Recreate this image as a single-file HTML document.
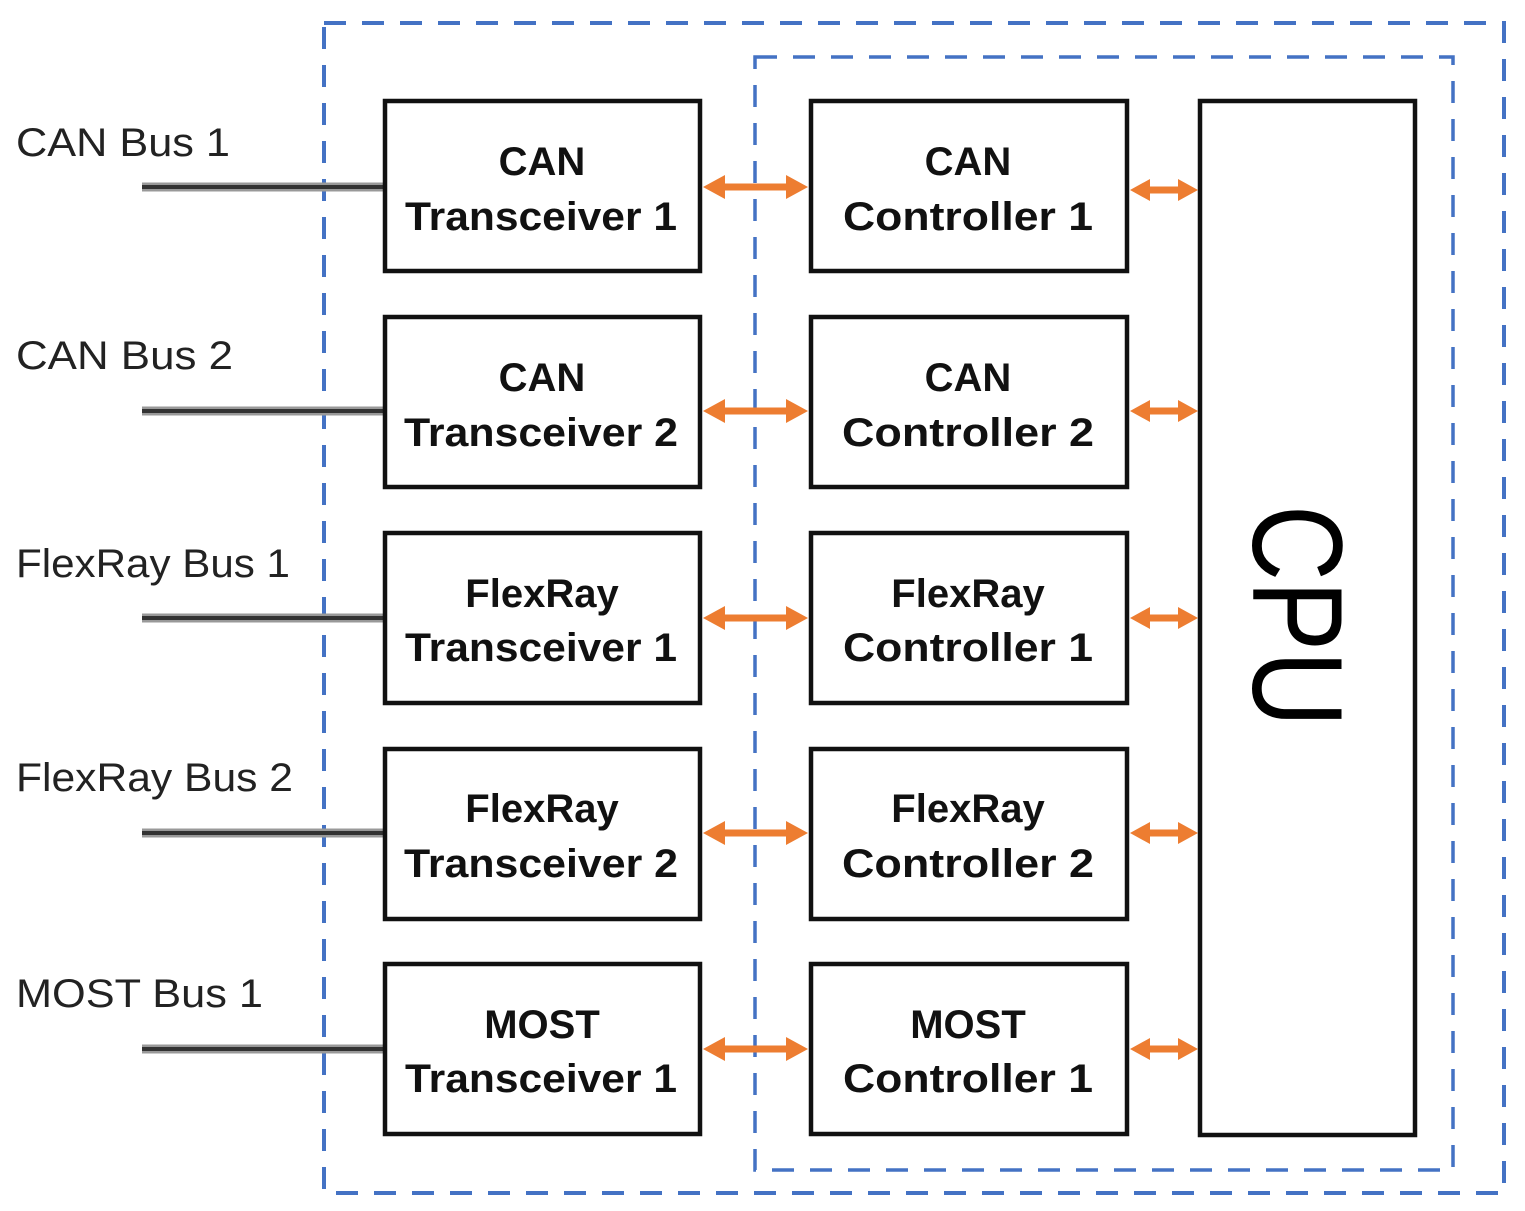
<!DOCTYPE html>
<html><head><meta charset="utf-8"><style>html,body{margin:0;padding:0;background:#fff}svg{display:block}</style></head>
<body>
<svg width="1525" height="1211" viewBox="0 0 1525 1211" xmlns="http://www.w3.org/2000/svg">
<defs>
<g id="arr"><path d="M0,0 L22,-12 L22,-3.5 L83,-3.5 L83,-12 L105,0 L83,12 L83,3.5 L22,3.5 L22,12 Z" fill="#ED7D31"/></g>
<g id="arr2"><path d="M0,0 L20,-11 L20,-3.5 L48,-3.5 L48,-11 L68,0 L48,11 L48,3.5 L20,3.5 L20,11 Z" fill="#ED7D31"/></g>
</defs>
<rect x="324" y="23" width="1180" height="1170" fill="none" stroke="#4472C4" stroke-width="4" stroke-dasharray="22 16"/>
<rect x="755" y="57" width="698" height="1113" fill="none" stroke="#4472C4" stroke-width="3.5" stroke-dasharray="22 16"/>
<g font-family="Liberation Sans, sans-serif" font-size="40" fill="#222">
<text x="16" y="156" textLength="214" lengthAdjust="spacingAndGlyphs">CAN Bus 1</text>
<text x="16" y="369" textLength="217" lengthAdjust="spacingAndGlyphs">CAN Bus 2</text>
<text x="16" y="577" textLength="274" lengthAdjust="spacingAndGlyphs">FlexRay Bus 1</text>
<text x="16" y="791" textLength="277" lengthAdjust="spacingAndGlyphs">FlexRay Bus 2</text>
<text x="16" y="1007" textLength="247" lengthAdjust="spacingAndGlyphs">MOST Bus 1</text>
</g>
<g stroke="#999" stroke-width="9">
<line x1="142" y1="187" x2="385" y2="187"/><line x1="142" y1="411" x2="385" y2="411"/><line x1="142" y1="618" x2="385" y2="618"/><line x1="142" y1="833" x2="385" y2="833"/><line x1="142" y1="1049" x2="385" y2="1049"/>
</g>
<g stroke="#333" stroke-width="4">
<line x1="142" y1="187" x2="385" y2="187"/><line x1="142" y1="411" x2="385" y2="411"/><line x1="142" y1="618" x2="385" y2="618"/><line x1="142" y1="833" x2="385" y2="833"/><line x1="142" y1="1049" x2="385" y2="1049"/>
</g>
<g fill="#fff" stroke="#111" stroke-width="4.5">
<rect x="385" y="101" width="315" height="170"/><rect x="385" y="317" width="315" height="170"/><rect x="385" y="533" width="315" height="170"/><rect x="385" y="749" width="315" height="170"/><rect x="385" y="964" width="315" height="170"/>
<rect x="811" y="101" width="316" height="170"/><rect x="811" y="317" width="316" height="170"/><rect x="811" y="533" width="316" height="170"/><rect x="811" y="749" width="316" height="170"/><rect x="811" y="964" width="316" height="170"/>
<rect x="1200" y="101" width="215" height="1034"/>
</g>
<g font-family="Liberation Sans, sans-serif" font-size="40" font-weight="bold" fill="#111" text-anchor="middle">
<text x="542" y="175">CAN</text><text x="541" y="230" textLength="272" lengthAdjust="spacingAndGlyphs">Transceiver 1</text>
<text x="542" y="391">CAN</text><text x="541" y="446" textLength="274" lengthAdjust="spacingAndGlyphs">Transceiver 2</text>
<text x="542" y="607">FlexRay</text><text x="541" y="661" textLength="272" lengthAdjust="spacingAndGlyphs">Transceiver 1</text>
<text x="542" y="822">FlexRay</text><text x="541" y="877" textLength="274" lengthAdjust="spacingAndGlyphs">Transceiver 2</text>
<text x="542" y="1038">MOST</text><text x="541" y="1092" textLength="272" lengthAdjust="spacingAndGlyphs">Transceiver 1</text>
<text x="968" y="175">CAN</text><text x="968" y="230" textLength="250" lengthAdjust="spacingAndGlyphs">Controller 1</text>
<text x="968" y="391">CAN</text><text x="968" y="446" textLength="252" lengthAdjust="spacingAndGlyphs">Controller 2</text>
<text x="968" y="607">FlexRay</text><text x="968" y="661" textLength="250" lengthAdjust="spacingAndGlyphs">Controller 1</text>
<text x="968" y="822">FlexRay</text><text x="968" y="877" textLength="252" lengthAdjust="spacingAndGlyphs">Controller 2</text>
<text x="968" y="1038">MOST</text><text x="968" y="1092" textLength="250" lengthAdjust="spacingAndGlyphs">Controller 1</text>
</g>
<text transform="translate(1253,616) rotate(90)" font-family="Liberation Sans, sans-serif" font-size="128" fill="#000" text-anchor="middle" textLength="222" lengthAdjust="spacingAndGlyphs">CPU</text>
<use href="#arr" x="703" y="187"/><use href="#arr" x="703" y="411"/><use href="#arr" x="703" y="618"/><use href="#arr" x="703" y="833"/><use href="#arr" x="703" y="1049"/>
<use href="#arr2" x="1130" y="190"/><use href="#arr2" x="1130" y="411"/><use href="#arr2" x="1130" y="618"/><use href="#arr2" x="1130" y="833"/><use href="#arr2" x="1130" y="1049"/>
</svg>
</body></html>
